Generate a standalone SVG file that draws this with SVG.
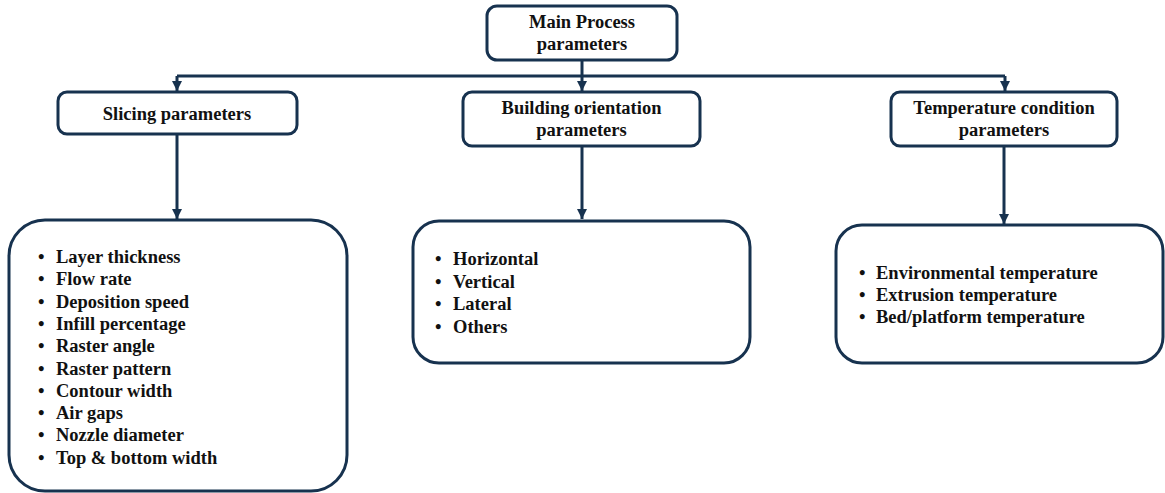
<svg xmlns="http://www.w3.org/2000/svg" width="1165" height="493" viewBox="0 0 1165 493">
  <style>
    .box { fill: #ffffff; stroke: #17324f; stroke-width: 3; }
    .wire { fill: none; stroke: #17324f; stroke-width: 3; }
    .title { font-family: "Liberation Serif", "Times New Roman", serif; font-weight: bold; font-size: 18.5px; fill: #111111; text-anchor: middle; }
    .item { font-family: "Liberation Serif", "Times New Roman", serif; font-weight: bold; font-size: 18.5px; fill: #111111; }
  </style>
  <defs>
    <marker id="arrow" markerUnits="userSpaceOnUse" markerWidth="12" markerHeight="12" refX="10" refY="5" orient="auto">
      <path d="M0,0 L10,5 L0,10 Z" fill="#17324f"/>
    </marker>
  </defs>

  <rect width="1165" height="493" fill="#ffffff"/>

  <!-- connectors -->
  <g id="connectors">
    <line class="wire" x1="582" y1="60" x2="582" y2="76"/>
    <line class="wire" x1="177" y1="76" x2="1005" y2="76"/>
    <line class="wire" x1="177" y1="76" x2="177" y2="91" marker-end="url(#arrow)"/>
    <line class="wire" x1="582" y1="76" x2="582" y2="91" marker-end="url(#arrow)"/>
    <line class="wire" x1="1005" y1="76" x2="1005" y2="91" marker-end="url(#arrow)"/>
    <line class="wire" x1="177" y1="134" x2="177" y2="219" marker-end="url(#arrow)"/>
    <line class="wire" x1="582" y1="146" x2="582" y2="219" marker-end="url(#arrow)"/>
    <line class="wire" x1="1004" y1="146" x2="1004" y2="224" marker-end="url(#arrow)"/>
  </g>

  <!-- root -->
  <g id="main-process">
    <rect class="box" x="487" y="6" width="190" height="54" rx="10"/>
    <text class="title" x="582" y="28">Main Process</text>
    <text class="title" x="582" y="50">parameters</text>
  </g>

  <!-- category boxes -->
  <g id="slicing">
    <rect class="box" x="58" y="92" width="239" height="42" rx="9"/>
    <text class="title" x="177" y="120">Slicing parameters</text>
  </g>

  <g id="building-orientation">
    <rect class="box" x="463" y="92" width="237" height="54" rx="9"/>
    <text class="title" x="581.5" y="114">Building orientation</text>
    <text class="title" x="581.5" y="136">parameters</text>
  </g>

  <g id="temperature">
    <rect class="box" x="891" y="92" width="226" height="54" rx="9"/>
    <text class="title" x="1004" y="114">Temperature condition</text>
    <text class="title" x="1004" y="136">parameters</text>
  </g>

  <!-- detail lists -->
  <g id="slicing-list">
    <rect class="box" x="9" y="220" width="338" height="271" rx="36"/>
    <g class="item">
      <text x="38" y="263">•</text><text x="56" y="263">Layer thickness</text>
      <text x="38" y="285.3">•</text><text x="56" y="285.3">Flow rate</text>
      <text x="38" y="307.6">•</text><text x="56" y="307.6">Deposition speed</text>
      <text x="38" y="329.9">•</text><text x="56" y="329.9">Infill percentage</text>
      <text x="38" y="352.2">•</text><text x="56" y="352.2">Raster angle</text>
      <text x="38" y="374.5">•</text><text x="56" y="374.5">Raster pattern</text>
      <text x="38" y="396.8">•</text><text x="56" y="396.8">Contour width</text>
      <text x="38" y="419.1">•</text><text x="56" y="419.1">Air gaps</text>
      <text x="38" y="441.4">•</text><text x="56" y="441.4">Nozzle diameter</text>
      <text x="38" y="463.7">•</text><text x="56" y="463.7">Top &amp; bottom width</text>
    </g>
  </g>

  <g id="orientation-list">
    <rect class="box" x="413" y="221" width="337" height="142" rx="26"/>
    <g class="item">
      <text x="435" y="265">•</text><text x="453" y="265">Horizontal</text>
      <text x="435" y="287.5">•</text><text x="453" y="287.5">Vertical</text>
      <text x="435" y="310">•</text><text x="453" y="310">Lateral</text>
      <text x="435" y="332.5">•</text><text x="453" y="332.5">Others</text>
    </g>
  </g>

  <g id="temperature-list">
    <rect class="box" x="836" y="225" width="327" height="138" rx="26"/>
    <g class="item">
      <text x="859" y="279">•</text><text x="876" y="279">Environmental temperature</text>
      <text x="859" y="301">•</text><text x="876" y="301">Extrusion temperature</text>
      <text x="859" y="323">•</text><text x="876" y="323">Bed/platform temperature</text>
    </g>
  </g>
</svg>
